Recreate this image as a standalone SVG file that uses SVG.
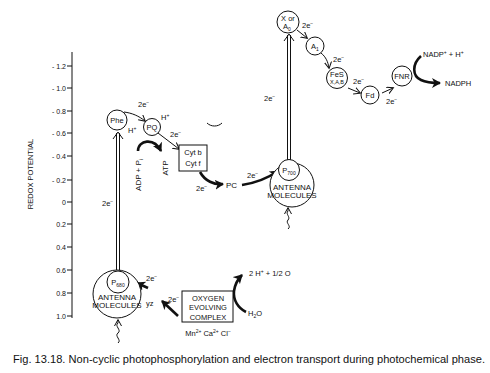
<svg xmlns="http://www.w3.org/2000/svg" width="490" height="373" viewBox="0 0 490 373">
<style>
text{font-family:"Liberation Sans",Arial,sans-serif;fill:#111;font-size:7.5px}
.c{text-anchor:middle}
.t{text-anchor:end;font-size:7px}
.m{font-size:8px}
.s{stroke:#111;stroke-width:1;fill:none}
.n{stroke:#111;stroke-width:1;fill:#fff}
.k{stroke:#111;stroke-width:2.6;fill:none}
.sup{font-size:5px}
</style>
<defs>
<marker id="a" markerWidth="8" markerHeight="8" refX="6" refY="4" orient="auto" markerUnits="userSpaceOnUse"><path d="M0,0.5 L6.5,4 L0,7.5" fill="none" stroke="#111" stroke-width="1"/></marker>
<marker id="b" markerWidth="12" markerHeight="12" refX="8" refY="5" orient="auto" markerUnits="userSpaceOnUse"><path d="M0,0 L9,5 L0,10 L2.5,5 Z" fill="#111"/></marker>
</defs>
<rect width="490" height="373" fill="#fff"/>

<g id="axis">
<line class="s" x1="72" y1="52" x2="72" y2="318"/>
<g class="s">
<line x1="67" y1="66" x2="72" y2="66"/><line x1="67" y1="88" x2="72" y2="88"/><line x1="67" y1="111" x2="72" y2="111"/><line x1="67" y1="133" x2="72" y2="133"/><line x1="67" y1="156" x2="72" y2="156"/><line x1="67" y1="180" x2="72" y2="180"/><line x1="67" y1="202" x2="72" y2="202"/><line x1="67" y1="224" x2="72" y2="224"/><line x1="67" y1="247" x2="72" y2="247"/><line x1="67" y1="270" x2="72" y2="270"/><line x1="67" y1="293" x2="72" y2="293"/><line x1="67" y1="316" x2="72" y2="316"/>
</g>
<text class="t" x="66" y="68.5">- 1.2</text>
<text class="t" x="66" y="90.5">- 1.0</text>
<text class="t" x="66" y="113.5">- 0.8</text>
<text class="t" x="66" y="135.5">- 0.6</text>
<text class="t" x="66" y="158.5">- 0.4</text>
<text class="t" x="66" y="182.5">- 0.2</text>
<text class="t" x="66" y="204.5">0</text>
<text class="t" x="66" y="226.5">0.2</text>
<text class="t" x="66" y="249.5">0.4</text>
<text class="t" x="66" y="272.5">0.6</text>
<text class="t" x="66" y="295.5">0.8</text>
<text class="t" x="66" y="318.5">1.0</text>
<text class="c" transform="translate(33,174) rotate(-90)">REDOX POTENTIAL</text>
</g>

<g id="connectors">
<line class="s" x1="116.5" y1="272" x2="116.5" y2="133"/>
<line class="s" x1="119.5" y1="272" x2="119.5" y2="133"/>
<path class="s" d="M113,139 L118,132 L123,139"/>
<text x="102" y="206">2e<tspan class="sup" dy="-3">−</tspan></text>
<line class="s" x1="287.5" y1="160" x2="287.5" y2="35"/>
<line class="s" x1="290.5" y1="160" x2="290.5" y2="35"/>
<path class="s" d="M284,41 L289,34 L294,41"/>
<text x="264" y="101">2e<tspan class="sup" dy="-3">−</tspan></text>
<path class="s" d="M124,112 C132,113 139,116 145,121" marker-end="url(#a)"/>
<text x="138" y="107">2e<tspan class="sup" dy="-3">−</tspan></text>
<line class="s" x1="158" y1="133" x2="179" y2="149" marker-end="url(#a)"/>
<text x="170" y="137">2e<tspan class="sup" dy="-3">−</tspan></text>
<path class="k" d="M138,151 C138,140 154,137 161,151" marker-end="url(#b)"/>
<path class="k" d="M200,172 C205,181 214,185 223,184" marker-end="url(#b)"/>
<text x="196" y="191">2e<tspan class="sup" dy="-3">−</tspan></text>
<path class="k" d="M242,185 C255,183 268,178 278,171" marker-end="url(#b)"/>
<text x="247" y="178">2e<tspan class="sup" dy="-3">−</tspan></text>
<line class="s" x1="297" y1="30" x2="307" y2="38" marker-end="url(#a)"/>
<text x="302" y="28">2e<tspan class="sup" dy="-3">−</tspan></text>
<path class="s" d="M321,53 C326,57 328,62 329,68" marker-end="url(#a)"/>
<text x="333" y="62">2e<tspan class="sup" dy="-3">−</tspan></text>
<line class="s" x1="348" y1="88" x2="360" y2="93" marker-end="url(#a)"/>
<text x="353" y="84">2e<tspan class="sup" dy="-3">−</tspan></text>
<line class="s" x1="382" y1="93" x2="393" y2="88" marker-end="url(#a)"/>
<text x="386" y="104">2e<tspan class="sup" dy="-3">−</tspan></text>
<path class="k" d="M421,56 C412,64 412,76 421,80 C427,83 433,83 440,83" marker-end="url(#b)"/>
<line class="k" x1="148" y1="288" x2="137" y2="283" marker-end="url(#b)"/>
<text x="146" y="281">2e<tspan class="sup" dy="-3">−</tspan></text>
<line class="k" x1="178" y1="316" x2="162" y2="301" marker-end="url(#b)"/>
<text x="168" y="302">2e<tspan class="sup" dy="-3">−</tspan></text>
<path class="k" d="M246,312 C238,308 233,300 234,291 C235,284 238,279 242,275" marker-end="url(#b)"/>
<path class="s" d="M288,229 C292,226 285,223 288,220 C291,217 285,214 288,211 L288,208" marker-end="url(#a)"/>
<path class="s" d="M118,343 C122,340 114,336 118,333 C122,330 114,326 118,323 L118,320" marker-end="url(#a)"/>
<path class="s" d="M207,123 C211,127 218,127 222,123"/>
</g>

<g id="phe"><circle class="n" cx="117" cy="120" r="10"/><text class="c" x="117" y="123">Phe</text></g>
<g id="pq"><circle class="n" cx="152" cy="127" r="8.5"/><text class="c" x="152" y="130">PQ</text>
<text x="128" y="133">H<tspan class="sup" dy="-3">+</tspan></text>
<text x="161" y="120">H<tspan class="sup" dy="-3">+</tspan></text></g>
<g id="cyt"><rect class="n" x="179" y="145" width="28" height="26"/><text class="c" x="193" y="155">Cyt b</text><text class="c" x="193" y="166">Cyt f</text></g>
<g id="atp">
<text class="c m" transform="translate(141,175) rotate(-90)">ADP + P<tspan class="sup" dy="1.5">i</tspan></text>
<text class="c m" transform="translate(168,168) rotate(-90)">ATP</text>
</g>
<g id="pc"><text class="m" x="226" y="188">PC</text></g>
<g id="ps1">
<circle class="n" cx="292" cy="185" r="22"/>
<circle class="n" cx="289" cy="170" r="10.5"/>
<text class="c" x="289" y="173">P<tspan class="sup" dy="1.5">700</tspan></text>
<text class="c m" x="292" y="190">ANTENNA</text>
<text class="c m" x="292" y="198">MOLECULES</text>
</g>
<g id="xa0"><circle class="n" cx="288" cy="22" r="11"/><text class="c" x="288" y="21">X or</text><text class="c" x="287" y="29">A<tspan class="sup" dy="1.5">0</tspan></text></g>
<g id="a1"><circle class="n" cx="315" cy="46" r="9"/><text class="c" x="315" y="49">A<tspan class="sup" dy="1.5">1</tspan></text></g>
<g id="fes"><circle class="n" cx="337" cy="78" r="10.5"/><text class="c" x="337" y="77">FeS</text><text class="c" x="337" y="84" style="font-size:5.5px">X,A,B</text></g>
<g id="fd"><circle class="n" cx="370" cy="95" r="9"/><text class="c" x="370" y="98">Fd</text></g>
<g id="fnr"><circle class="n" cx="402" cy="76" r="10"/><text class="c" x="402" y="79">FNR</text></g>
<g id="nadp">
<text x="423" y="57">NADP<tspan class="sup" dy="-3">+</tspan><tspan dy="3">  + H</tspan><tspan class="sup" dy="-3">+</tspan></text>
<text x="445" y="86">NADPH</text>
</g>
<g id="ps2">
<circle class="n" cx="117" cy="294" r="24"/>
<circle class="n" cx="118" cy="282" r="11"/>
<text class="c" x="118" y="285">P<tspan class="sup" dy="1.5">680</tspan></text>
<text class="c m" x="117" y="300">ANTENNA</text>
<text class="c m" x="117" y="308">MOLECULES</text>
</g>
<g id="yz"><text x="146" y="306">yz</text></g>
<g id="oec">
<rect class="n" x="182" y="291" width="51" height="31"/>
<text class="c" x="208" y="301">OXYGEN</text>
<text class="c" x="208" y="310">EVOLVING</text>
<text class="c" x="208" y="320">COMPLEX</text>
<text class="c" x="208" y="336">Mn<tspan class="sup" dy="-3">2+</tspan><tspan dy="3">  Ca</tspan><tspan class="sup" dy="-3">2+</tspan><tspan dy="3">  Cl</tspan><tspan class="sup" dy="-3">−</tspan></text>
</g>
<g id="water">
<text x="248" y="316">H<tspan class="sup" dy="1.5">2</tspan><tspan dy="-1.5">O</tspan></text>
<text x="249" y="276">2 H<tspan class="sup" dy="-3">+</tspan><tspan dy="3"> + 1/2 O</tspan></text>
</g>
<text x="13" y="363" style="font-size:11px" textLength="472" lengthAdjust="spacingAndGlyphs">Fig. 13.18. Non-cyclic photophosphorylation and electron transport during photochemical phase.</text>
</svg>
